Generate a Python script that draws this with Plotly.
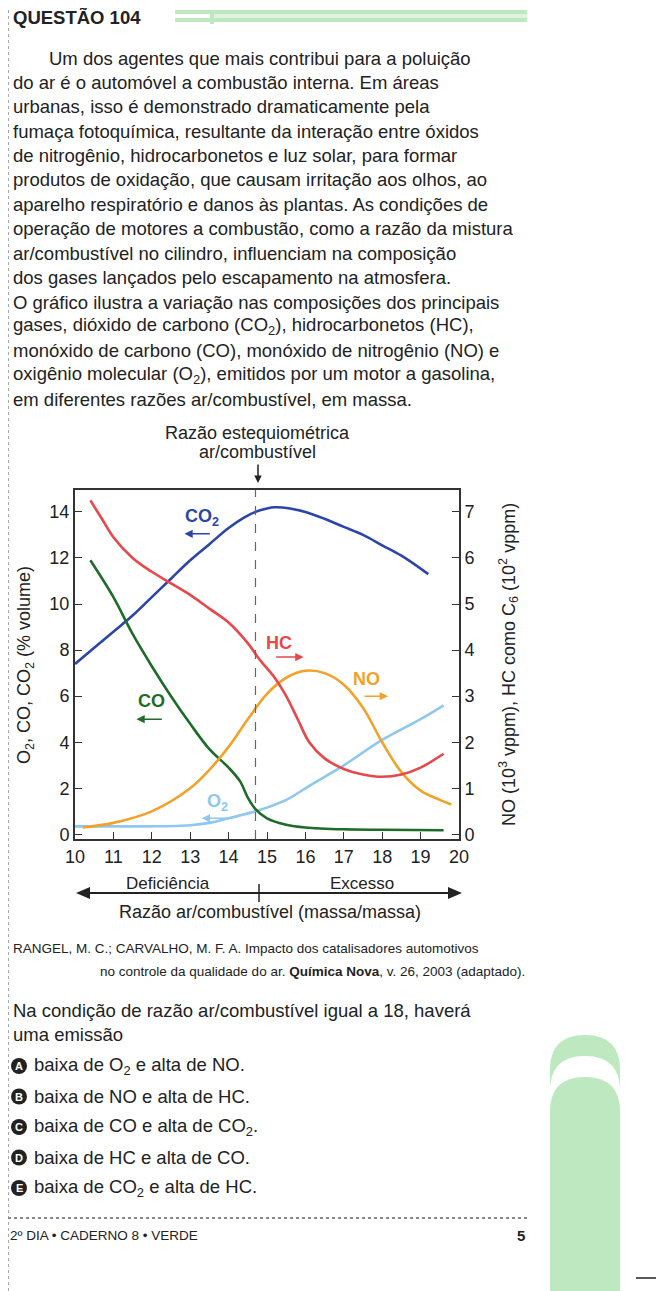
import plotly.graph_objects as go

W, H = 656, 1283   # page body has an 8px margin
def px(x): return (x - 8) / W
def py(y): return 1 - (y - 8) / H

# ---- data (left-axis % volume units; right-axis values in their own units) ----
co2_x = [10, 10.5, 11, 11.5, 12, 12.5, 13, 13.5, 14, 14.4, 14.7, 15.0, 15.2, 15.6, 16, 16.5, 17, 17.5, 18, 18.5, 19.2]
co2_y = [7.4, 8.1, 8.8, 9.5, 10.3, 11.1, 11.9, 12.6, 13.3, 13.75, 14.0, 14.15, 14.2, 14.15, 14.0, 13.7, 13.35, 13.0, 12.55, 12.1, 11.3]
co_x = [10.4, 11, 11.5, 12, 12.5, 13, 13.5, 14, 14.3, 14.5, 14.7, 15, 15.5, 16, 17, 18, 19.6]
co_y = [11.9, 10.3, 8.7, 7.3, 6.0, 4.8, 3.7, 2.9, 2.3, 1.6, 1.1, 0.7, 0.42, 0.3, 0.22, 0.2, 0.18]
o2_x = [10, 11, 12, 13, 13.5, 14, 14.7, 15.5, 16, 16.5, 17, 18, 19, 19.6]
o2_y = [0.35, 0.35, 0.35, 0.4, 0.5, 0.7, 1.0, 1.5, 2.0, 2.5, 3.0, 4.1, 5.0, 5.6]
# right axis (10^2 vppm for HC, 10^3 vppm for NO)
hc_x = [10.4, 10.7, 11, 11.5, 12, 12.5, 13, 13.5, 14, 14.5, 14.8, 15.2, 15.5, 15.8, 16.1, 16.5, 17, 17.5, 18, 18.5, 19, 19.6]
hc_y = [7.25, 6.85, 6.45, 6.0, 5.7, 5.45, 5.2, 4.9, 4.6, 4.15, 3.8, 3.4, 3.0, 2.5, 2.0, 1.65, 1.42, 1.3, 1.25, 1.3, 1.45, 1.75]
no_x = [10.2, 11, 12, 13, 13.5, 14, 14.5, 15, 15.5, 16, 16.5, 17, 17.5, 18, 18.5, 19, 19.5, 19.8]
no_y = [0.15, 0.25, 0.5, 1.0, 1.4, 1.9, 2.5, 3.05, 3.4, 3.55, 3.5, 3.25, 2.75, 2.0, 1.35, 0.95, 0.75, 0.65]

xticks = list(range(10, 21))
lticks = list(range(0, 15, 2))
rticks = list(range(0, 8))

FONT = "Arial"
TXT = "#222222"
BLUE, RED, GREEN, ORANGE, LBLUE = "#2b45a8", "#e8474b", "#1e6b2a", "#f2a22a", "#8ec8ee"

fig = go.Figure()
def line(x, y, c, ax="y"):
    fig.add_trace(go.Scatter(x=x, y=y, mode="lines", line=dict(color=c, width=2.6, shape="spline", smoothing=1.0),
                             yaxis=ax, showlegend=False, hoverinfo="skip"))
line(co2_x, co2_y, BLUE)
line(o2_x, o2_y, LBLUE)
line(co_x, co_y, GREEN)
line(no_x, no_y, ORANGE, "y2")
line(hc_x, hc_y, RED, "y2")

ax_common = dict(showgrid=False, zeroline=False, ticks="inside", ticklen=7, tickcolor="#333",
                 showline=True, linecolor="#333", linewidth=2,
                 tickfont=dict(family=FONT, size=18, color=TXT))
fig.update_layout(
    width=W, height=H, margin=dict(l=0, r=0, t=0, b=0, autoexpand=False),
    paper_bgcolor="white", plot_bgcolor="white", showlegend=False,
    xaxis=dict(domain=[px(75), px(459)], range=[10, 20], tickvals=xticks, mirror=True, **ax_common),
    yaxis=dict(domain=[py(839), py(490)], range=[-0.2, 14.95], tickvals=lticks, mirror=True, **ax_common),
    yaxis2=dict(overlaying="y", side="right", range=[-0.1, 7.475], tickvals=rticks, **ax_common),
)

shapes = []
shapes.append(dict(type="line", xref="x", yref="paper", x0=14.7, x1=14.7, y0=py(839), y1=py(490),
                   line=dict(color="#666", width=1.2, dash="dash")))
ann = []
def arr(x0, x1, y, c, ax="y"):
    ann.append(dict(x=x1, y=y, ax=x0, ay=y, xref="x", yref=ax, axref="x", ayref=ax, text="",
                    showarrow=True, arrowhead=2, arrowsize=1.1, arrowwidth=1.5, arrowcolor=c))
def lab(x, y, t, c):
    ann.append(dict(x=x, y=y, xref="x", yref="y", text="<b>" + t + "</b>", showarrow=False,
                    font=dict(family=FONT, size=18, color=c)))
lab(13.3, 13.75, "CO<sub>2</sub>", BLUE); arr(13.55, 12.85, 13.05, BLUE)
lab(15.3, 8.3, "HC", RED); arr(15.2, 15.95, 7.7, RED)
lab(17.6, 6.75, "NO", ORANGE); arr(17.5, 18.15, 6.0, ORANGE)
lab(12.0, 5.8, "CO", GREEN); arr(12.3, 11.6, 5.0, GREEN)
lab(13.7, 1.4, "O<sub>2</sub>", LBLUE); arr(14.0, 13.3, 0.7, LBLUE)

def t(x, y, s, size=18.5, anchor="left", color=TXT, angle=0, fam=FONT):
    ann.append(dict(x=px(x), y=py(y), xref="paper", yref="paper", text=s, showarrow=False,
                    xanchor=anchor, yanchor="middle", textangle=angle, borderpad=0,
                    font=dict(family=fam, size=size, color=color)))

t(257, 433, "Razão estequiométrica", 18, "center")
t(257, 452, "ar/combustível", 18, "center")
ann.append(dict(x=px(258), y=py(483), ax=0, ay=-20, xref="paper", yref="paper",
                axref="pixel", ayref="pixel", text="", showarrow=True, arrowhead=2, arrowwidth=1.5, arrowcolor="#222"))
t(25, 665, "O<sub>2</sub>, CO, CO<sub>2</sub> (% volume)", 18, "center", angle=-90)
t(508, 665, "NO (10<sup>3</sup> vppm), HC como C<sub>6</sub> (10<sup>2</sup> vppm)", 18, "center", angle=-90)
t(168, 883, "Deficiência", 17, "center")
t(362, 883, "Excesso", 17, "center")
t(270, 912, "Razão ar/combustível (massa/massa)", 18, "center")
shapes.append(dict(type="line", xref="paper", yref="paper", x0=px(84), x1=px(454), y0=py(893), y1=py(893),
                   line=dict(color="#222", width=2)))
shapes.append(dict(type="path", xref="paper", yref="paper",
                   path=f"M {px(76)},{py(893)} L {px(90)},{py(887)} L {px(90)},{py(899)} Z", fillcolor="#222", line=dict(width=0)))
shapes.append(dict(type="path", xref="paper", yref="paper",
                   path=f"M {px(462)},{py(893)} L {px(448)},{py(887)} L {px(448)},{py(899)} Z", fillcolor="#222", line=dict(width=0)))
shapes.append(dict(type="line", xref="paper", yref="paper", x0=px(259), x1=px(259), y0=py(884), y1=py(902),
                   line=dict(color="#222", width=1.5)))

t(12, 17, "<b>QUESTÃO 104</b>", 18.5, fam="Liberation Sans Narrow, Arial")
GR = "#bde8c0"
for (x0, x1, y0, y1, c) in [(175, 527, 10, 14, GR), (175, 527, 18, 22, GR), (210, 527, 14, 18, "#dff3e0"), (210, 214, 14, 24, GR)]:
    shapes.append(dict(type="rect", xref="paper", yref="paper", x0=px(x0), x1=px(x1), y0=py(y0), y1=py(y1),
                       fillcolor=c, line=dict(width=0)))

body = [
    "Um dos agentes que mais contribui para a poluição",
    "do ar é o automóvel a combustão interna. Em áreas",
    "urbanas, isso é demonstrado dramaticamente pela",
    "fumaça fotoquímica, resultante da interação entre óxidos",
    "de nitrogênio, hidrocarbonetos e luz solar, para formar",
    "produtos de oxidação, que causam irritação aos olhos, ao",
    "aparelho respiratório e danos às plantas. As condições de",
    "operação de motores a combustão, como a razão da mistura",
    "ar/combustível no cilindro, influenciam na composição",
    "dos gases lançados pelo escapamento na atmosfera.",
    "O gráfico ilustra a variação nas composições dos principais",
    "gases, dióxido de carbono (CO<sub>2</sub>), hidrocarbonetos (HC),",
    "monóxido de carbono (CO), monóxido de nitrogênio (NO) e",
    "oxigênio molecular (O<sub>2</sub>), emitidos por um motor a gasolina,",
    "em diferentes razões ar/combustível, em massa.",
]
for i, s in enumerate(body):
    t(48 if i == 0 else 12, 58 + i * 24.4, s)

t(12, 948, "RANGEL, M. C.; CARVALHO, M. F. A. Impacto dos catalisadores automotivos", 13.5)
t(526, 971, "no controle da qualidade do ar. <b>Química Nova</b>, v. 26, 2003 (adaptado).", 13.5, "right")
t(12, 1010, "Na condição de razão ar/combustível igual a 18, haverá")
t(12, 1034, "uma emissão")
opts = [("A", "baixa de O<sub>2</sub> e alta de NO."), ("B", "baixa de NO e alta de HC."),
        ("C", "baixa de CO e alta de CO<sub>2</sub>."), ("D", "baixa de HC e alta de CO."),
        ("E", "baixa de CO<sub>2</sub> e alta de HC.")]
for i, (l, s) in enumerate(opts):
    y = 1066 + i * 30.5
    shapes.append(dict(type="circle", xref="paper", yref="paper", x0=px(11), x1=px(27), y0=py(y - 8), y1=py(y + 8),
                       fillcolor="#222", line=dict(width=0)))
    t(19, y, "<b>" + l + "</b>", 11, "center", color="white")
    t(33, y, s)

def tab(top, col):
    r = 35
    cy = top + r
    return dict(type="path", xref="paper", yref="paper", fillcolor=col, line=dict(width=0),
                path=(f"M {px(550)},{py(1291)} L {px(550)},{py(cy)} "
                      f"Q {px(550)},{py(top)} {px(585)},{py(top)} Q {px(620)},{py(top)} {px(620)},{py(cy)} "
                      f"L {px(620)},{py(1291)} Z"))
shapes += [tab(1035, GR), tab(1056, "white"), tab(1077, GR)]

shapes.append(dict(type="line", xref="paper", yref="paper", x0=px(8.5), x1=px(8.5), y0=0, y1=1,
                   line=dict(color="#aaa", width=1, dash="dot")))
shapes.append(dict(type="line", xref="paper", yref="paper", x0=px(8), x1=px(527), y0=py(1218), y1=py(1218),
                   line=dict(color="#888", width=2, dash="dot")))
shapes.append(dict(type="line", xref="paper", yref="paper", x0=px(636), x1=px(664), y0=py(1278), y1=py(1278),
                   line=dict(color="#222", width=1.5)))
t(9, 1235, "2º DIA • CADERNO 8 • VERDE", 13.5)
t(526, 1235, "<b>5</b>", 15, "right")

fig.update_layout(shapes=shapes, annotations=ann)
fig.write_html("out.html")
